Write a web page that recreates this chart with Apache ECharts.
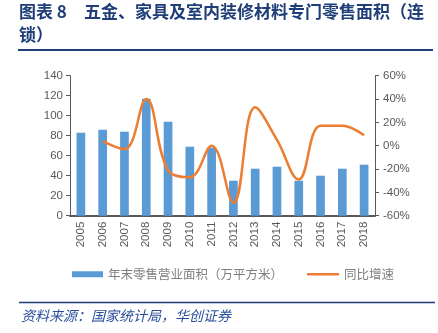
<!DOCTYPE html>
<html><head><meta charset="utf-8">
<script src="https://cdn.jsdelivr.net/npm/echarts@6/dist/echarts.min.js"></script>
<style>html,body{margin:0;padding:0;background:#fff}#c{width:438px;height:333px}</style>
</head><body><div id="c"></div>
<script>
const years = ['2005','2006','2007','2008','2009','2010','2011','2012','2013','2014','2015','2016','2017','2018'];
const area = [83, 86, 84, 117, 94, 69, 68, 35, 47, 49, 35, 40, 47, 51];
const growth = [null, 4, -3, 40, -21, -27, 0, -49, 33, 5, -29, 17, 17, 9];
const leftTicks = [0, 140, 20];
const rightTicks = [-60, 60, 20];
const titleLine1 = '图表 8　五金、家具及室内装修材料专门零售面积（连';
const titleLine2 = '锁）';
const sourceText = '资料来源：国家统计局，华创证券';
const barName = '年末零售营业面积（万平方米）';
const lineName = '同比增速';

const chart = echarts.init(document.getElementById('c'), null, {renderer: 'canvas'});
const gray = '#595959';
const font = '"Liberation Sans", Arial, sans-serif';
const cjk = '"Noto Sans CJK SC", sans-serif';
chart.setOption({
  animation: false,
  textStyle: {fontFamily: font},
  graphic: [
    {type: 'text', left: 19, top: 3, style: {text: titleLine1, font: 'bold 17px ' + cjk, fill: '#1F3E79'}},
    {type: 'text', left: 19, top: 26, style: {text: titleLine2, font: 'bold 17px ' + cjk, fill: '#1F3E79'}},
    {type: 'line', shape: {x1: 18, y1: 50, x2: 433, y2: 50}, style: {stroke: '#1F3E79', lineWidth: 2}},
    {type: 'line', shape: {x1: 19, y1: 302.5, x2: 435, y2: 302.5}, style: {stroke: '#1F3E79', lineWidth: 1.5}},
    {type: 'text', left: 21, top: 309, style: {text: sourceText, font: 'italic 14px ' + cjk, fill: '#2A4F9A'}}
  ],
  grid: {left: 70, right: 63, top: 75.7, bottom: 117.3},
  legend: [
    {data: [barName], left: 67, top: 263, itemWidth: 31, itemHeight: 6, itemGap: 3,
     textStyle: {color: '#7F7F7F', fontSize: 12.5, fontFamily: cjk}, icon: 'rect'},
    {data: [{name: lineName, icon: 'rect'}], left: 302, top: 263, itemWidth: 32, itemHeight: 2.5, itemGap: 3,
     textStyle: {color: '#7F7F7F', fontSize: 12.5, fontFamily: cjk}}
  ],
  xAxis: {
    type: 'category', data: years,
    axisLine: {lineStyle: {color: '#595959', width: 2}},
    axisTick: {show: false},
    axisLabel: {rotate: 90, color: gray, fontSize: 11.5, margin: 6, interval: 0}
  },
  yAxis: [
    {type: 'value', min: leftTicks[0], max: leftTicks[1], interval: leftTicks[2],
     axisLine: {show: true, lineStyle: {color: '#595959'}},
     axisTick: {show: true, length: 4, lineStyle: {color: '#595959'}},
     splitLine: {show: false},
     axisLabel: {color: gray, fontSize: 11.5, margin: 7}},
    {type: 'value', min: rightTicks[0], max: rightTicks[1], interval: rightTicks[2],
     axisLine: {show: true, lineStyle: {color: '#595959'}},
     axisTick: {show: true, length: 4, lineStyle: {color: '#595959'}},
     splitLine: {show: false},
     axisLabel: {color: gray, fontSize: 11.5, margin: 8, formatter: '{value}%'}}
  ],
  series: [
    {name: barName, type: 'bar', data: area, barWidth: 8.7, itemStyle: {color: '#5B9BD5'}},
    {name: lineName, type: 'line', yAxisIndex: 1, data: growth, smooth: 0.4, showSymbol: false,
     lineStyle: {color: '#ED7D31', width: 2.5}, itemStyle: {color: '#ED7D31'}}
  ]
});
</script></body></html>
